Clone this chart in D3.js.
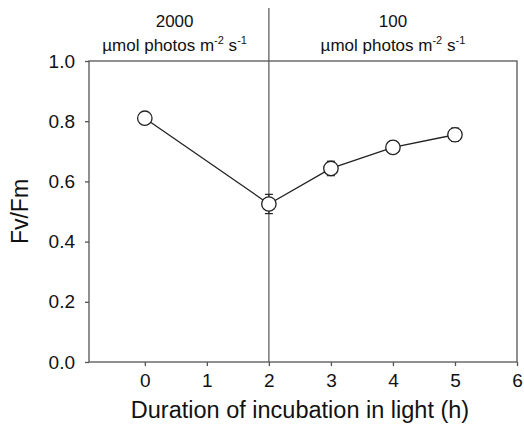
<!DOCTYPE html>
<html><head><meta charset="utf-8">
<script src="https://cdn.jsdelivr.net/npm/d3@7"></script>
<style>body{margin:0;background:#fff}svg{display:block}text{font-family:"Liberation Sans",Arial,sans-serif;fill:#111}</style>
</head><body>
<svg id="c" width="524" height="434"></svg>
<script>
const hours = [0, 2, 3, 4, 5];
const fvfm = [0.81, 0.525, 0.643, 0.713, 0.755];
const errs = [0.0, 0.032, 0.024, 0.02, 0.022];
const xTicks = [0, 1, 2, 3, 4, 5, 6];
const yTicks = [0.0, 0.2, 0.4, 0.6, 0.8, 1.0];
const phaseLabels = [["2000", "µmol photos m", "-2", " s", "-1"], ["100", "µmol photos m", "-2", " s", "-1"]];
const phaseCenters = [0.48, 4.0];
const divider = 2;

const svg = d3.select("#c");
const L = 89, R = 517, T = 61, B = 362;
const x = d3.scaleLinear().domain([-0.9, 6]).range([L, R]);
const y = d3.scaleLinear().domain([0, 1]).range([B, T]);
const axisCol = "#555";

// frame
svg.append("rect").attr("x", L).attr("y", T).attr("width", R - L).attr("height", B - T)
  .attr("fill", "none").attr("stroke", axisCol).attr("stroke-width", 1.3);

const ya = svg.append("g").attr("transform", `translate(${L},0)`)
  .call(d3.axisLeft(y).tickValues(yTicks).tickFormat(d3.format(".1f")).tickSize(4).tickPadding(10));
ya.select(".domain").remove();
ya.selectAll("line").attr("stroke", axisCol).attr("stroke-width", 1.3);
ya.selectAll("text").style("font-size", "19px").attr("fill", "#111");

const xa = svg.append("g").attr("transform", `translate(0,${B})`)
  .call(d3.axisBottom(x).tickValues(xTicks).tickFormat(d3.format("d")).tickSize(4).tickPadding(8));
xa.select(".domain").remove();
xa.selectAll("line").attr("stroke", axisCol).attr("stroke-width", 1.3);
xa.selectAll("text").style("font-size", "19px").attr("fill", "#111");

// divider
svg.append("line").attr("x1", x(divider)).attr("x2", x(divider)).attr("y1", 8).attr("y2", B)
  .attr("stroke", axisCol).attr("stroke-width", 1.2);

// phase labels
phaseLabels.forEach((p, i) => {
  const cx = x(phaseCenters[i]);
  svg.append("text").attr("x", cx).attr("y", 27).attr("text-anchor", "middle").style("font-size", "17px").text(p[0]);
  const t = svg.append("text").attr("x", cx).attr("y", 51).attr("text-anchor", "middle").style("font-size", "17px");
  t.append("tspan").text(p[1]);
  t.append("tspan").attr("dy", -7).style("font-size", "11px").text(p[2]);
  t.append("tspan").attr("dy", 7).text(p[3]);
  t.append("tspan").attr("dy", -7).style("font-size", "11px").text(p[4]);
});

// line
const data = hours.map((h, i) => ({h, v: fvfm[i], e: errs[i]}));
svg.append("path").datum(data).attr("fill", "none").attr("stroke", "#222").attr("stroke-width", 1.3)
  .attr("d", d3.line().x(d => x(d.h)).y(d => y(d.v)));

// error bars
const eb = svg.append("g").attr("stroke", "#222").attr("stroke-width", 1.2);
data.filter(d => d.e > 0).forEach(d => {
  eb.append("line").attr("x1", x(d.h)).attr("x2", x(d.h)).attr("y1", y(d.v + d.e)).attr("y2", y(d.v - d.e));
  [d.v + d.e, d.v - d.e].forEach(v => eb.append("line").attr("x1", x(d.h) - 4).attr("x2", x(d.h) + 4).attr("y1", y(v)).attr("y2", y(v)));
});

svg.append("g").selectAll("circle").data(data).join("circle")
  .attr("cx", d => x(d.h)).attr("cy", d => y(d.v)).attr("r", 7.2)
  .attr("fill", "#fff").attr("stroke", "#222").attr("stroke-width", 1.3);

// axis titles
svg.append("text").attr("x", 300).attr("y", 418).attr("text-anchor", "middle").style("font-size", "23.5px").text("Duration of incubation in light (h)");
svg.append("text").attr("transform", `translate(28,${(T + B) / 2}) rotate(-90)`).attr("text-anchor", "middle").style("font-size", "23px").text("Fv/Fm");
</script>
</body></html>
